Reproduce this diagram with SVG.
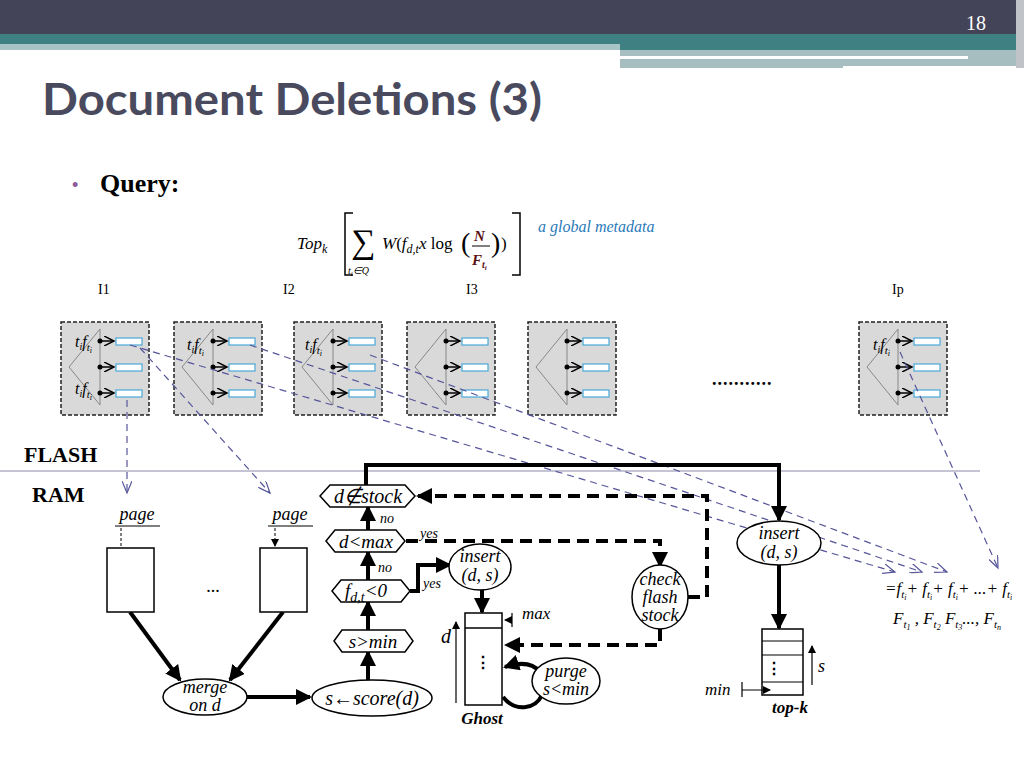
<svg xmlns="http://www.w3.org/2000/svg" width="1024" height="768" viewBox="0 0 1024 768">
<defs>
<marker id="ah" markerWidth="8" markerHeight="8" refX="7" refY="4" orient="auto" markerUnits="userSpaceOnUse"><path d="M0,0 L8,4 L0,8 z" fill="#000"/></marker>
<marker id="ahb" markerWidth="16" markerHeight="16" refX="14" refY="8" orient="auto" markerUnits="userSpaceOnUse"><path d="M0,0 L16,8 L0,16 z" fill="#000"/></marker>
<marker id="oa" markerWidth="12" markerHeight="10" refX="10" refY="5" orient="auto" markerUnits="userSpaceOnUse"><path d="M0,0 L10,5 L0,10" fill="none" stroke="#000" stroke-width="1.5"/></marker>
<marker id="ba" markerWidth="14" markerHeight="10" refX="12" refY="5" orient="auto" markerUnits="userSpaceOnUse"><path d="M0,0 L12,5 L0,10" fill="none" stroke="#55559a" stroke-width="1.2"/></marker>
<g id="tree">
<rect x="0" y="0" width="88" height="93" fill="#d9d9d9" stroke="#222" stroke-width="1.5" stroke-dasharray="4,2"/>
<path d="M39,7 L8,45 L39,83 Z" fill="none" stroke="#888" stroke-width="1"/>
<g stroke="#000" stroke-width="1.5"><line x1="39" y1="19" x2="53" y2="19" marker-end="url(#oa)"/><line x1="39" y1="45" x2="53" y2="45" marker-end="url(#oa)"/><line x1="39" y1="71" x2="53" y2="71" marker-end="url(#oa)"/></g>
<g fill="#000"><circle cx="39" cy="19" r="2.5"/><circle cx="39" cy="45" r="2.5"/><circle cx="39" cy="71" r="2.5"/></g>
<g fill="#fff" stroke="#4aa8d8" stroke-width="1.2"><rect x="55" y="16" width="26" height="7"/><rect x="55" y="42" width="26" height="7"/><rect x="55" y="68" width="26" height="7"/></g>
</g>
</defs>
<style>
.s{font-family:"Liberation Serif",serif}
.i{font-family:"Liberation Serif",serif;font-style:italic}
.thick{stroke:#000;stroke-width:4;fill:none}
.dsh{stroke:#000;stroke-width:4;fill:none;stroke-dasharray:12,7}
.blu{stroke:#55559a;stroke-width:1.2;fill:none;stroke-dasharray:7,5}
.node{fill:#fff;stroke:#000;stroke-width:1.5}
</style>
<rect width="1024" height="768" fill="#fff"/>
<rect x="0" y="0" width="1024" height="34" fill="#444458"/>
<rect x="0" y="34" width="1024" height="16" fill="#3f8082"/>
<rect x="0" y="44" width="620" height="6" fill="#a8c4c4"/>
<rect x="620" y="50" width="404" height="18" fill="#a6bec0"/>
<rect x="620" y="56" width="348" height="3" fill="#fff"/>
<rect x="843" y="66" width="181" height="4" fill="#fff"/>
<rect x="1016" y="0" width="8" height="68" fill="#c0c4c8"/>
<text x="976" y="30" class="s" font-size="20" fill="#fff" text-anchor="middle">18</text>
<text x="42" y="115" font-family="Lato,Liberation Sans,sans-serif" font-weight="bold" font-size="44" fill="#4a4a5e" textLength="500" lengthAdjust="spacingAndGlyphs">Document Deletions (3)</text>
<text x="72" y="191" font-family="Liberation Sans,sans-serif" font-size="18" fill="#8a5a9a">•</text>
<text x="100" y="192" class="s" font-weight="bold" font-size="26">Query:</text>
<g id="formula">
<text x="297" y="249" class="i" font-size="17">Top<tspan font-size="12" dy="4">k</tspan></text>
<path d="M353,213 H345 V275 H353 M512,213 H520 V275 H512" fill="none" stroke="#000" stroke-width="1.5"/>
<text x="351" y="253" class="s" font-size="34">∑</text>
<text x="348" y="274" class="i" font-size="10">t<tspan font-size="7" dy="2">i</tspan><tspan dy="-2">∈Q</tspan></text>
<text x="382" y="249" class="i" font-size="17">W<tspan font-style="normal">(</tspan>f<tspan font-size="12" dy="4">d,t</tspan><tspan dy="-4">x </tspan><tspan font-style="normal">log</tspan></text>
<text x="461" y="252" class="s" font-size="28">(</text>
<text x="474" y="241" class="i" font-weight="bold" font-size="15" fill="#5a1010">N</text>
<line x1="472" y1="246" x2="490" y2="246" stroke="#000"/>
<text x="472" y="265" class="i" font-weight="bold" font-size="15" fill="#5a1010">F<tspan font-size="10" dy="3">t</tspan><tspan font-size="7" dy="2">i</tspan></text>
<text x="491" y="252" class="s" font-size="28">)</text>
<text x="501" y="249" class="s" font-size="17">)</text>
<text x="538" y="232" class="i" font-size="16" fill="#2a7ab8">a global metadata</text>
</g>
<g class="s" font-size="14"><text x="98" y="294">I1</text><text x="283" y="294">I2</text><text x="466" y="294">I3</text><text x="892" y="294">Ip</text></g>
<g id="n-box1"><use href="#tree" x="61" y="322"/></g>
<g id="n-box2"><use href="#tree" x="174" y="322"/></g>
<g id="n-box3"><use href="#tree" x="294" y="322"/></g>
<g id="n-box4"><use href="#tree" x="407" y="322"/></g>
<g id="n-box5"><use href="#tree" x="528" y="322"/></g>
<g id="n-box6"><use href="#tree" x="859" y="322"/></g>
<g class="i" font-size="16">
<text x="75" y="347">t<tspan font-size="10" dy="3">i</tspan><tspan dy="-3">f</tspan><tspan font-size="11" dy="4">t</tspan><tspan font-size="8" dy="2">i</tspan></text>
<text x="75" y="394">t<tspan font-size="10" dy="3">i</tspan><tspan dy="-3">f</tspan><tspan font-size="11" dy="4">t</tspan><tspan font-size="8" dy="2">i</tspan></text>
<text x="187" y="350">t<tspan font-size="10" dy="3">i</tspan><tspan dy="-3">f</tspan><tspan font-size="11" dy="4">t</tspan><tspan font-size="8" dy="2">i</tspan></text>
<text x="305" y="350">t<tspan font-size="10" dy="3">i</tspan><tspan dy="-3">f</tspan><tspan font-size="11" dy="4">t</tspan><tspan font-size="8" dy="2">i</tspan></text>
<text x="873" y="350">t<tspan font-size="10" dy="3">i</tspan><tspan dy="-3">f</tspan><tspan font-size="11" dy="4">t</tspan><tspan font-size="8" dy="2">i</tspan></text>
</g>
<text x="712" y="385" class="s" font-weight="bold" font-size="18" letter-spacing="1">...........</text>
<text x="24" y="462" class="s" font-weight="bold" font-size="22">FLASH</text>
<text x="32" y="502" class="s" font-weight="bold" font-size="22">RAM</text>
<line x1="0" y1="471" x2="980" y2="471" stroke="#8a8aaa" stroke-width="1.2"/>
<g id="connectors">
<path class="blu" d="M127,400 V493" marker-end="url(#ba)"/>
<path class="blu" d="M140,348 L270,493" marker-end="url(#ba)"/>
<path class="blu" d="M130,345 L895,572" marker-end="url(#ba)"/>
<path class="blu" d="M250,345 L922,572" marker-end="url(#ba)"/>
<path class="blu" d="M370,355 L947,572" marker-end="url(#ba)"/>
<path class="blu" d="M900,352 L998,568" marker-end="url(#ba)"/>
<path d="M121,528 V546 M275,528 V546" stroke="#000" stroke-dasharray="3,2" fill="none" marker-end="url(#ah)"/>
<path class="thick" d="M130,612 L180,680" marker-end="url(#ahb)"/>
<path class="thick" d="M283,612 L230,680" marker-end="url(#ahb)"/>
<path class="thick" d="M247,697 H310" marker-end="url(#ahb)"/>
<path class="thick" d="M368,680 V652" marker-end="url(#ahb)"/>
<path class="thick" d="M368,630 V602" marker-end="url(#ahb)"/>
<path class="thick" d="M368,580 V552" marker-end="url(#ahb)"/>
<path class="thick" d="M368,530 V507" marker-end="url(#ahb)"/>
<path class="thick" d="M366,485 V465 H779 V520" marker-end="url(#ahb)"/>
<path class="thick" d="M779,565 V628" marker-end="url(#ahb)"/>
<path class="thick" d="M410,591 H418 V565 H450" marker-end="url(#ahb)"/>
<path class="thick" d="M482,589 V612" marker-end="url(#ahb)"/>
<path class="dsh" d="M406,541 H660 V566" marker-end="url(#ahb)"/>
<path class="dsh" d="M688,597 H707 V496 H418" marker-end="url(#ahb)"/>
<path class="dsh" d="M660,629 V645 H506" marker-end="url(#ahb)"/>
<path class="thick" d="M540,672 C532,662 520,662 505,667" marker-end="url(#ahb)"/>
<path d="M503,697 C515,712 535,710 542,695" stroke="#000" stroke-width="4" fill="none"/>
</g>
<g id="n-page1"><text x="137" y="520" class="i" font-size="18" text-anchor="middle">page</text><line x1="115" y1="526" x2="160" y2="526" stroke="#000"/><rect x="107" y="548" width="47" height="64" class="node"/></g>
<g id="n-page2"><text x="290" y="520" class="i" font-size="18" text-anchor="middle">page</text><line x1="268" y1="526" x2="313" y2="526" stroke="#000"/><rect x="260" y="548" width="47" height="64" class="node"/></g>
<text x="213" y="592" class="s" font-size="18" text-anchor="middle">...</text>
<g id="n-merge"><ellipse cx="205" cy="697" rx="42" ry="18" class="node"/><text x="205" y="693" class="i" font-size="18" text-anchor="middle">merge</text><text x="205" y="711" class="i" font-size="18" text-anchor="middle">on d</text></g>
<g id="n-score"><ellipse cx="372" cy="698" rx="60" ry="18" class="node"/><text x="372" y="705" class="i" font-size="20" text-anchor="middle">s←score(d)</text></g>
<g id="n-stock"><path d="M320,496 L330,485 H405 L415,496 L405,507 H330 Z" class="node"/><text x="368" y="503" class="i" font-size="20" text-anchor="middle">d∉stock</text></g>
<text x="380" y="523" class="i" font-size="14">no</text>
<g id="n-max"><path d="M326,541 L335,530 H396 L405,541 L396,552 H335 Z" class="node"/><text x="366" y="548" class="i" font-size="19" text-anchor="middle">d&lt;max</text></g>
<text x="420" y="538" class="i" font-size="14">yes</text>
<text x="378" y="572" class="i" font-size="14">no</text>
<g id="n-fdt"><path d="M332,591 L341,580 H401 L410,591 L401,602 H341 Z" class="node"/><text x="366" y="597" class="i" font-size="19" text-anchor="middle">f<tspan font-size="14" dy="5">d,t</tspan><tspan dy="-5">&lt;0</tspan></text></g>
<text x="423" y="588" class="i" font-size="14">yes</text>
<g id="n-smin"><path d="M334,641 L342,630 H405 L413,641 L405,652 H342 Z" class="node"/><text x="373" y="648" class="i" font-size="19" text-anchor="middle">s&gt;min</text></g>
<g id="n-insert1"><ellipse cx="480" cy="567" rx="31" ry="23" class="node"/><text x="480" y="562" class="i" font-size="18" text-anchor="middle">insert</text><text x="480" y="581" class="i" font-size="18" text-anchor="middle">(d, s)</text></g>
<g id="n-ghost"><rect x="465" y="613" width="37" height="92" class="node"/><line x1="465" y1="628" x2="502" y2="628" stroke="#000" stroke-width="1.5"/>
<text x="483" y="668" class="s" font-weight="bold" font-size="16" text-anchor="middle">⋮</text>
<path d="M512,613 V627 M512,620 H505" stroke="#000" stroke-width="1.2" marker-end="url(#ah)"/>
<text x="522" y="619" class="i" font-size="17">max</text>
<text x="441" y="643" class="i" font-size="20">d</text>
<line x1="456" y1="703" x2="456" y2="622" stroke="#000" stroke-width="1.2" marker-end="url(#ah)"/>
<text x="482" y="724" class="i" font-weight="bold" font-size="17" text-anchor="middle">Ghost</text></g>
<g id="n-purge"><ellipse cx="566" cy="681" rx="34" ry="23" class="node"/><text x="566" y="677" class="i" font-size="18" text-anchor="middle">purge</text><text x="566" y="695" class="i" font-size="18" text-anchor="middle">s&lt;min</text></g>
<g id="n-check"><ellipse cx="660" cy="597" rx="28" ry="32" class="node"/><text x="660" y="585" class="i" font-size="18" text-anchor="middle">check</text><text x="660" y="603" class="i" font-size="18" text-anchor="middle">flash</text><text x="660" y="621" class="i" font-size="18" text-anchor="middle">stock</text></g>
<g id="n-insert2"><ellipse cx="779" cy="543" rx="42" ry="22" class="node"/><text x="779" y="539" class="i" font-size="18" text-anchor="middle">insert</text><text x="779" y="558" class="i" font-size="18" text-anchor="middle">(d, s)</text></g>
<g id="n-topk"><rect x="762" y="629" width="41" height="66" class="node"/>
<path d="M762,641 H803 M762,655 H803 M762,682 H803" stroke="#000" stroke-width="1.2"/>
<text x="774" y="674" class="s" font-weight="bold" font-size="16" text-anchor="middle">⋮</text>
<line x1="812" y1="685" x2="812" y2="646" stroke="#000" stroke-width="1.2" marker-end="url(#ah)"/>
<text x="818" y="672" class="i" font-size="18">s</text>
<text x="705" y="695" class="i" font-size="17">min</text>
<path d="M742,682 V697 M742,690 H770" stroke="#000" stroke-width="1.2" marker-end="url(#ah)"/>
<text x="790" y="713" class="i" font-weight="bold" font-size="17" text-anchor="middle">top-k</text></g>
<text x="885" y="594" class="i" font-size="17">=f<tspan font-size="11" dy="4">t</tspan><tspan font-size="8" dy="2">i</tspan><tspan dy="-6">+ f</tspan><tspan font-size="11" dy="4">t</tspan><tspan font-size="8" dy="2">i</tspan><tspan dy="-6">+ f</tspan><tspan font-size="11" dy="4">t</tspan><tspan font-size="8" dy="2">i</tspan><tspan dy="-6">+ ...+ f</tspan><tspan font-size="11" dy="4">t</tspan><tspan font-size="8" dy="2">i</tspan></text>
<text x="893" y="624" class="i" font-size="17">F<tspan font-size="11" dy="4">t</tspan><tspan font-size="8" dy="2">1</tspan><tspan dy="-6"> , F</tspan><tspan font-size="11" dy="4">t</tspan><tspan font-size="8" dy="2">2</tspan><tspan dy="-6"> F</tspan><tspan font-size="11" dy="4">t</tspan><tspan font-size="8" dy="2">3</tspan><tspan dy="-6">..., F</tspan><tspan font-size="11" dy="4">t</tspan><tspan font-size="8" dy="2">n</tspan></text>
</svg>
